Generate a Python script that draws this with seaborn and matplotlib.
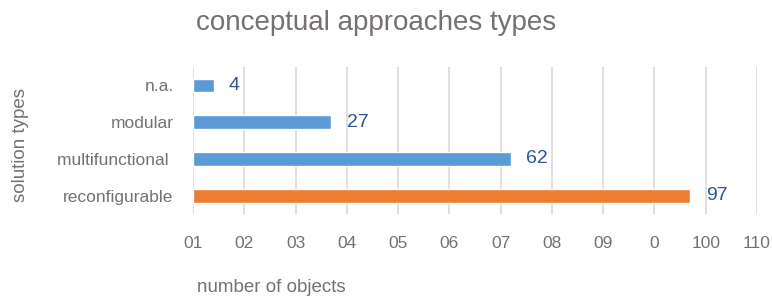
import matplotlib
matplotlib.use("Agg")
import matplotlib.pyplot as plt
import seaborn as sns
import pandas as pd

# data
categories = ["n.a.", "modular", "multifunctional ", "reconfigurable"]
counts = [4, 27, 62, 97]
bar_colors = ["#5B9BD5", "#5B9BD5", "#5B9BD5", "#ED7D31"]
x_ticks = [0, 10, 20, 30, 40, 50, 60, 70, 80, 90, 100, 110]
x_tick_labels = ["01", "02", "03", "04", "05", "06", "07", "08", "09", "0", "100", "110"]

df = pd.DataFrame({"type": categories, "count": counts})

sns.set_theme(style="white")
plt.rcParams["font.family"] = ["Liberation Sans Narrow", "Liberation Sans", "DejaVu Sans"]
grey = "#767171"

fig = plt.figure(figsize=(7.72, 3.02), dpi=100)
ax = fig.add_axes([0.25, 0.291, 0.7306, 0.487])

sns.barplot(data=df, y="type", x="count", hue="type", palette=bar_colors,
            order=categories, orient="h", width=0.37, legend=False, ax=ax,
            zorder=3, saturation=1)

ax.set_xlim(0, 110)
ax.set_ylim(3.5, -0.5)
ax.set_xticks(x_ticks)
ax.set_xticklabels(x_tick_labels)
ax.grid(axis="x", color="#D9D9D9", linewidth=1.2, zorder=0)
ax.grid(axis="y", visible=False)
for s in ax.spines.values():
    s.set_visible(False)
ax.tick_params(axis="x", length=0, pad=16, labelsize=12.5, labelcolor=grey)
ax.tick_params(axis="y", length=0, pad=14, labelsize=12.5, labelcolor=grey)

for i, v in enumerate(counts):
    ax.text(v + 3, i, str(v), va="center", ha="left", fontsize=14,
            color="#2F5597", family=["Liberation Sans", "DejaVu Sans"])

ax.set_xlabel("")
ax.set_ylabel("")
fig.text(0.487, 0.925, "conceptual approaches types", ha="center", va="center",
         fontsize=20, color=grey)
fig.text(0.255, 0.048, "number of objects", ha="left", va="center",
         fontsize=13.5, color=grey)
fig.text(0.027, 0.52, "solution types", ha="center", va="center",
         rotation=90, fontsize=13.5, color=grey)

fig.savefig("out.png", dpi=100)
